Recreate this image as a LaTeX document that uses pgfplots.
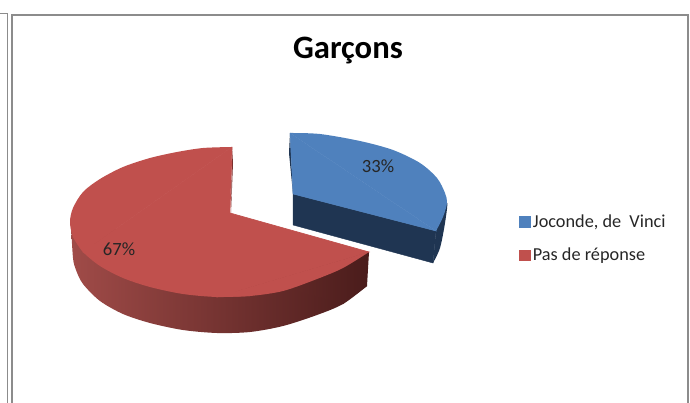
\documentclass[border=0pt]{standalone}
\usepackage{pgfplots}
\pgfplotsset{compat=1.18}
\usepackage{fontspec}
\setmainfont{Carlito}
\definecolor{pieblue}{HTML}{4F81BD}
\definecolor{piered}{HTML}{C0504D}
\definecolor{sideblue}{HTML}{1F3552}
\definecolor{sidedark}{HTML}{4A1C1B}
\definecolor{sidemid}{HTML}{7A302E}
\definecolor{sidelight}{HTML}{A04B48}
\definecolor{framegray}{HTML}{8C8C8C}
\begin{document}
\begin{tikzpicture}
\useasboundingbox (0,0) rectangle (517.5pt,302.25pt);
\begin{axis}[
  scale only axis, width=517.5pt, height=302.25pt,
  xmin=0, xmax=690, ymin=0, ymax=403, y dir=reverse,
  hide axis,
  legend style={at={(axis cs:516,209)}, anchor=north west, draw=none, fill=none,
    font=\fontsize{13.7}{15}\selectfont, row sep=10pt, inner sep=2pt, text=black!85},
  legend cell align=left,
  legend image code/.code={\fill[#1] (0pt,-4pt) rectangle (8pt,4pt);},
  legend columns=1,
]
% window frames
\addplot[framegray, line width=0.7pt, forget plot] coordinates {(0,13) (7,13) (7,403)};
\addplot[framegray, line width=1.1pt, forget plot] coordinates {(12,403) (12,15) (688,15) (688,403)};

% blue slice, side
\addplot[draw=sideblue, line width=0.3pt, fill=sideblue, forget plot] coordinates {
  (293,194) (293,225) (433,263) (436,231) (293,194)};
\addplot[smooth, draw=none, fill=sideblue, forget plot] coordinates {
  (433,263) (440,248) (445,223) (447,203) (436,231)};
\addplot[draw=none, fill=sideblue, forget plot] coordinates {
  (290,133) (289,153) (293,194) (290,133)};
% blue slice, top
\addplot[smooth, draw=none, fill=pieblue, forget plot] coordinates {
  (290,133) (320,134) (360,141) (393,150) (420,163) (437,178) (445,193)
  (447,203) (443,217) (436,231)};
\addplot[draw=pieblue, line width=0.3pt, fill=pieblue] coordinates {
  (290,133) (436,231) (293,194) (290,133)};
\addlegendentry{Joconde, de\ \ Vinci}

% red slice, side with the shade running left to right
\addplot[smooth, draw=none, left color=sidelight, middle color=sidemid, right color=sidedark, forget plot] coordinates {
  (71,225) (73,258) (76,270) (83,284) (100,301) (123,314) (150,323) (183,330) (217,333)
  (250,332) (283,326) (317,315) (343,304) (367,286)};
\addplot[draw=none, left color=sidelight, middle color=sidemid, right color=sidedark, forget plot] coordinates {
  (71,225) (343,304) (367,286) (369,252) (71,225)};
% red slice, inner wall
\addplot[draw=none, fill=sidemid, forget plot] coordinates {
  (232,147) (233,163) (231,213) (232,147)};
% red slice, top, the rim in three pieces so the notch stays open
\addplot[smooth, draw=none, fill=piered, forget plot] coordinates {
  (232,147) (203,148) (177,152) (150,158) (123,167) (100,179) (83,192) (73,208)
  (70,222) (73,237) (83,252)};
\addplot[smooth, draw=none, fill=piered, forget plot] coordinates {
  (73,237) (83,252) (100,266) (123,278) (150,287) (183,294) (217,297) (250,296)};
\addplot[smooth, draw=none, fill=piered, forget plot] coordinates {
  (217,297) (250,296) (283,291) (317,279) (343,268) (369,252)};
\addplot[draw=piered, line width=0.5pt, fill=piered] coordinates {
  (232,147) (83,252) (217,297) (369,252) (230,213) (232,147)};
\addlegendentry{Pas de réponse}

\node[font=\fontsize{24.5}{28}\selectfont\bfseries, text=black] at (axis cs:348,51) {Garçons};
\node[font=\fontsize{14}{16}\selectfont, text=black!85] at (axis cs:378,166) {33\%};
\node[font=\fontsize{14}{16}\selectfont, text=black!85] at (axis cs:119,249) {67\%};
\end{axis}
\end{tikzpicture}
\end{document}
